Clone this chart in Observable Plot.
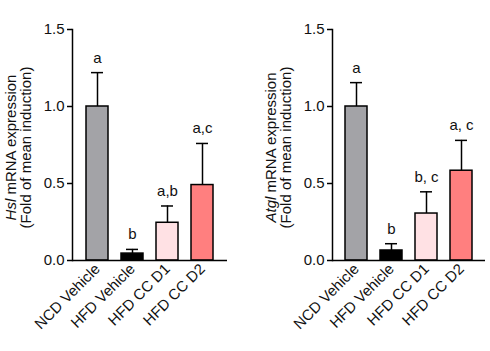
<!DOCTYPE html>
<html>
<head>
<meta charset="utf-8">
<script src="https://cdn.jsdelivr.net/npm/d3@7"></script>
<script src="https://cdn.jsdelivr.net/npm/@observablehq/plot@0.6"></script>
<style>
  body { margin: 0; background: #fff; }
  #wrap { display: flex; width: 490px; height: 351px; }
</style>
</head>
<body>
<div id="wrap"></div>
<script>
const categories = ["NCD Vehicle", "HFD Vehicle", "HFD CC D1", "HFD CC D2"];
const colors = ["#a3a3a7", "#000000", "#ffe1e4", "#ff7f7f"];
const hslMean = [1.0, 0.045, 0.245, 0.49];
const hslErr = [1.22, 0.072, 0.354, 0.76];
const hslSig = ["a", "b", "a,b", "a,c"];
const atglMean = [1.0, 0.065, 0.305, 0.583];
const atglErr = [1.155, 0.109, 0.446, 0.78];
const atglSig = ["a", "b", "b, c", "a, c"];
const yTicks = [0, 0.5, 1.0, 1.5];

const font = "'Liberation Sans', Arial, sans-serif";

function panel(means, errs, sigs, gene, mLeft, mRight) {
  const data = categories.map((c, i) => ({cat: c, mean: means[i], err: errs[i], sig: sigs[i], color: colors[i]}));
  const p = Plot.plot({
    width: 245,
    height: 351,
    marginLeft: mLeft,
    marginRight: mRight,
    marginTop: 29,
    marginBottom: 91,
    style: {fontFamily: font, fontSize: "15px", color: "#111", background: "white"},
    x: {domain: categories, padding: 0.37, label: null},
    y: {domain: [0, 1.5], label: null},
    marks: [
      Plot.ruleX(data, {x: "cat", y1: "mean", y2: "err", stroke: "black", strokeWidth: 1.5}),
      Plot.tickY(data, {x: "cat", y: "err", stroke: "black", strokeWidth: 1.5, inset: 5}),
      Plot.barY(data, {x: "cat", y: "mean", fill: "color", stroke: "black", strokeWidth: 1.5}),
      Plot.text(data, {x: "cat", y: "err", text: "sig", dy: -10, lineAnchor: "bottom", fontSize: 15, fill: "#111"}),
      Plot.axisY({ticks: yTicks, tickFormat: d3.format(".1f"), tickSize: 5, tickPadding: 3, stroke: "black", strokeWidth: 1.5, fontSize: 15}),
      Plot.axisX({tickSize: 0, tickRotate: -45, tickPadding: 6, fontSize: 15, label: null}),
      Plot.ruleY([0], {stroke: "black", strokeWidth: 1.5}),
      Plot.frame({anchor: "left", stroke: "black", strokeWidth: 1.5})
    ]
  });
  const svg = d3.select(p);
  const cy = (29 + 260) / 2 + 3;
  const t = svg.append("text")
    .attr("transform", `translate(${mLeft - 56},${cy}) rotate(-90)`)
    .attr("text-anchor", "middle")
    .attr("font-family", font)
    .attr("font-size", 15)
    .attr("fill", "#111");
  t.append("tspan").attr("x", 0).attr("dy", 0).attr("font-style", "italic").text(gene);
  t.append("tspan").text(" mRNA expression");
  t.append("tspan").attr("x", 0).attr("dy", 15).text("(Fold of mean induction)");
  return p;
}

const wrap = document.getElementById("wrap");
wrap.appendChild(panel(hslMean, hslErr, hslSig, "Hsl", 72, 18));
wrap.appendChild(panel(atglMean, atglErr, atglSig, "Atgl", 87, 5));
</script>
</body>
</html>
